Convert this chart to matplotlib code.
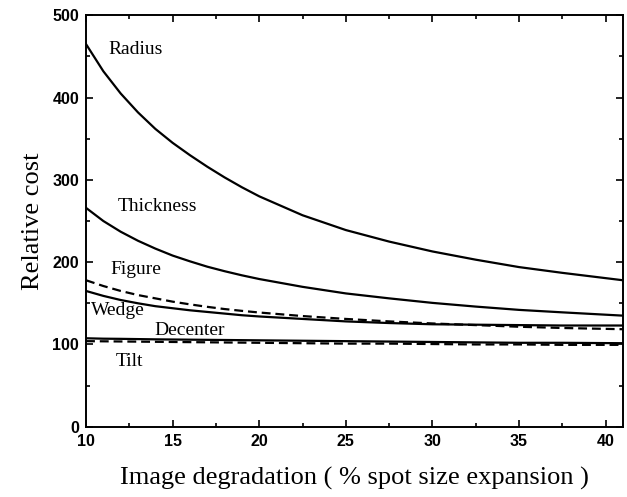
import matplotlib
matplotlib.use("Agg")

import matplotlib.pyplot as plt
import matplotlib.ticker as mticker

# ── Data ────────────────────────────────────────────────────────────────────
degradation = [10, 11, 12, 13, 14, 15, 16, 17, 18, 19, 20,
               22.5, 25, 27.5, 30, 32.5, 35, 37.5, 41]

radius    = [465, 432, 405, 382, 362, 345, 330, 316, 303, 291, 280,
             257, 239, 225, 213, 203, 194, 187, 178]
thickness = [266, 250, 237, 226, 216.5, 208, 201, 194.5, 189, 184, 179.5,
             170, 162, 156, 150.5, 146, 142, 139, 135]
figure    = [178, 171, 165, 160, 156, 152, 148.7, 145.7, 143, 140.8, 138.8,
             134.5, 131, 128, 125.5, 123.5, 121.5, 120, 118.5]
wedge     = [165, 159, 154, 150, 146.5, 144, 141.5, 139.5, 137.5, 135.5, 134,
             131, 128, 126, 124.5, 124, 123.5, 123, 123]
decenter  = [107.5, 107, 106.8, 106.5, 106.2, 106, 105.8, 105.6, 105.4, 105.2, 105,
             104.5, 104, 103.5, 103, 102.5, 102, 102, 101.5]
tilt      = [104, 103.8, 103.6, 103.4, 103.2, 103, 102.8, 102.6, 102.4, 102.2, 102,
             101.5, 101, 101, 100.5, 100, 100, 99.5, 99.5]

# label text, x, y (data units)
curve_labels = [
    ("Radius",    12.85, 458),
    ("Thickness", 14.1,  268),
    ("Figure",    12.9,  191),
    ("Wedge",     11.85, 141),
    ("Decenter",  16.0,  117),
    ("Tilt",      12.5,  79),
]

# ── Plot ────────────────────────────────────────────────────────────────────
SERIF = "Liberation Serif"
SANS = "Liberation Sans"

fig = plt.figure(figsize=(6.27, 4.97), dpi=100)
ax = fig.add_axes([0.1372, 0.1414, 0.8564, 0.8278])

lw = 1.6
dash = (0, (4, 2.2))
ax.plot(degradation, radius, color="black", lw=lw)
ax.plot(degradation, thickness, color="black", lw=lw)
ax.plot(degradation, figure, color="black", lw=lw, ls=dash)
ax.plot(degradation, wedge, color="black", lw=lw)
ax.plot(degradation, decenter, color="black", lw=lw)
ax.plot(degradation, tilt, color="black", lw=lw, ls=dash)

for text, x, y in curve_labels:
    ax.text(x, y, text, fontsize=14, family=SERIF, ha="center", va="center")

ax.set_xlim(10, 41)
ax.set_ylim(0, 500)
ax.xaxis.set_major_locator(mticker.MultipleLocator(5))
ax.xaxis.set_minor_locator(mticker.MultipleLocator(2.5))
ax.yaxis.set_major_locator(mticker.MultipleLocator(100))
ax.yaxis.set_minor_locator(mticker.MultipleLocator(50))

ax.tick_params(which="both", direction="in", top=True, right=True,
               width=1.2, labelsize=11.5, pad=5)
ax.tick_params(which="major", length=5)
ax.tick_params(which="minor", length=3)
for lab in ax.get_xticklabels() + ax.get_yticklabels():
    lab.set_family(SANS)
    lab.set_fontweight("bold")

for sp in ax.spines.values():
    sp.set_linewidth(1.4)

ax.set_xlabel("Image degradation ( % spot size expansion )",
              fontsize=19, family=SERIF, labelpad=13)
ax.set_ylabel("Relative cost", fontsize=19, family=SERIF, labelpad=6)

fig.savefig("out.png", dpi=100, facecolor="white")
